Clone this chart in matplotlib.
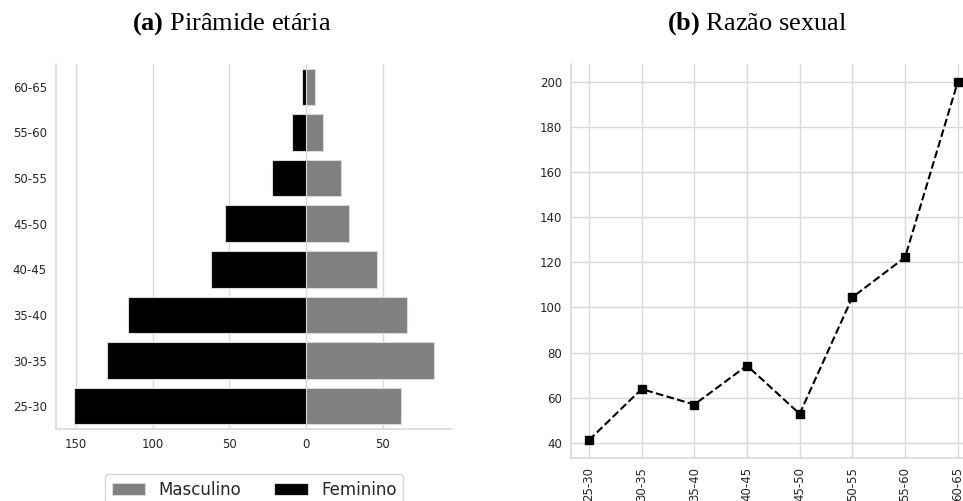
import matplotlib
matplotlib.use("Agg")
import matplotlib.pyplot as plt
import seaborn as sns
import numpy as np

sns.set_theme(style="whitegrid")
plt.rcParams['font.family'] = ['DejaVu Sans']
plt.rcParams['mathtext.fontset'] = 'custom'
plt.rcParams['mathtext.rm'] = 'Liberation Serif'
plt.rcParams['mathtext.bf'] = 'Liberation Serif:bold'

faixas = ["25-30", "30-35", "35-40", "40-45", "45-50", "50-55", "55-60", "60-65"]
masculino = [62, 83, 66, 46, 28, 23, 11, 6]
feminino = [151, 130, 116, 62, 53, 22, 9, 3]
razao = [41.1, 63.8, 56.9, 74.2, 52.8, 104.5, 122.2, 200.0]
xticks_a = [-150, -100, -50, 0, 50]
xticklabels_a = ["150", "100", "50", "0", "50"]

fig = plt.figure(figsize=(9.63, 5.01), dpi=100)
W, H = 963, 501

def axes_px(x0, y0, x1, y1):
    return fig.add_axes([x0 / W, 1 - y1 / H, (x1 - x0) / W, (y1 - y0) / H])

# (a) pyramid
ax1 = axes_px(56, 64, 452, 429)
y = np.arange(len(faixas))
ax1.barh(y, masculino, height=0.8, color="#808080", edgecolor="#d9d9d9", linewidth=0.8, label="Masculino")
ax1.barh(y, [-v for v in feminino], height=0.8, color="black", edgecolor="#d9d9d9", linewidth=0.8, label="Feminino")
ax1.set_yticks(y)
ax1.set_yticklabels(faixas)
ax1.set_xticks(xticks_a)
ax1.set_xticklabels(xticklabels_a)
ax1.set_xlim(-163, 95)
ax1.set_ylim(-0.5, 7.5)
ax1.grid(axis="y", visible=False)
ax1.grid(axis="x", color="#d9d9d9", linewidth=1)
for s in ["top", "right"]:
    ax1.spines[s].set_visible(False)
for s in ["left", "bottom"]:
    ax1.spines[s].set_color("#d9d9d9")
    ax1.spines[s].set_linewidth(1.2)
ax1.tick_params(labelsize=8.5, colors="#262626", length=0, pad=6.5)
ax1.legend(loc="upper center", bbox_to_anchor=(0.5, -0.123), ncol=2, fontsize=12,
           frameon=True, handlelength=2.0, columnspacing=2.0, borderaxespad=0)

# (b) sex ratio
ax2 = axes_px(571, 64, 963, 458)
x = np.arange(len(faixas))
ax2.plot(x, razao, linestyle="--", color="black", marker="s", markersize=6, linewidth=1.5)
ax2.set_xticks(x)
ax2.set_xticklabels(faixas, rotation=90)
ax2.set_xlim(-0.34, 7.1)
ax2.set_ylim(33.2, 208)
ax2.set_yticks([40, 60, 80, 100, 120, 140, 160, 180, 200])
ax2.grid(color="#d9d9d9", linewidth=1)
for s in ["top", "right"]:
    ax2.spines[s].set_visible(False)
for s in ["left", "bottom"]:
    ax2.spines[s].set_color("#d9d9d9")
    ax2.spines[s].set_linewidth(1.2)
ax2.tick_params(labelsize=8.5, colors="#262626", length=0, pad=6.5)

fig.text(232 / W, 1 - 24 / H, r"$\mathbf{(a)}$ Pirâmide etária", family="Liberation Serif",
         fontsize=19, ha="center", va="center", color="black")
fig.text(757 / W, 1 - 24 / H, r"$\mathbf{(b)}$ Razão sexual", family="Liberation Serif",
         fontsize=19, ha="center", va="center", color="black")

fig.savefig("out.png", dpi=100)
